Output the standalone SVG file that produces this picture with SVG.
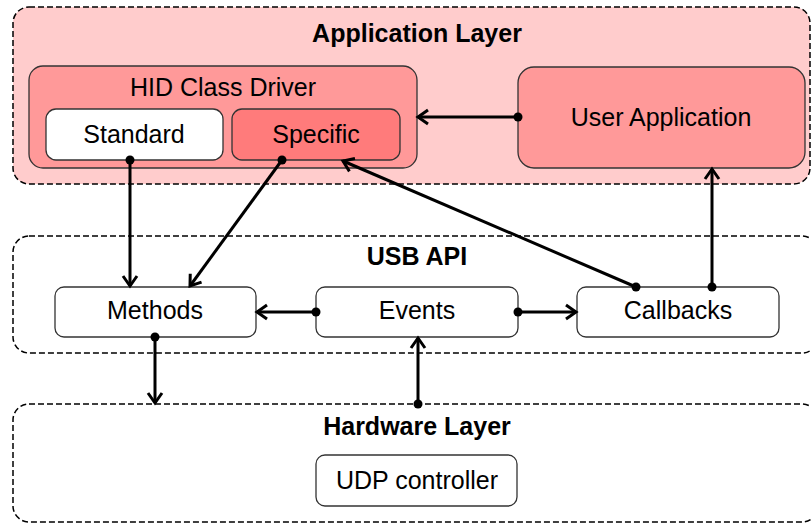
<svg xmlns="http://www.w3.org/2000/svg" width="811" height="523" viewBox="0 0 811 523">
<style>
.layer{stroke:#000;stroke-width:1.5;stroke-dasharray:6,3}
.node{stroke:#333;stroke-width:1.3}
.t{font-family:"Liberation Sans",Arial,sans-serif;font-size:25px;fill:#000;text-anchor:middle}
.b{font-weight:bold}
.c{fill:none;stroke:#000;stroke-width:3}
</style>
<defs>
<marker id="arr" markerUnits="userSpaceOnUse" markerWidth="16" markerHeight="18" refX="13" refY="8" orient="auto" viewBox="0 0 16 16">
<path d="M3,1 L13,8 L3,15" fill="none" stroke="#000" stroke-width="3"/>
</marker>
<marker id="dot" markerUnits="userSpaceOnUse" markerWidth="10" markerHeight="10" refX="5" refY="5" viewBox="0 0 10 10">
<circle cx="5" cy="5" r="4.5" fill="#000"/>
</marker>
</defs>
<rect width="811" height="523" fill="#fff"/>
<g id="app-layer">
<rect class="layer" x="13" y="7" width="797" height="177" rx="16" fill="#ffcccc"/>
<text class="t b" x="417" y="42">Application Layer</text>
</g>
<g id="usb-api">
<rect class="layer" x="13" y="236" width="805" height="117" rx="16" fill="#fff"/>
<text class="t b" x="417" y="265">USB API</text>
</g>
<g id="hw-layer">
<rect class="layer" x="13" y="404" width="805" height="118" rx="16" fill="#fff"/>
<text class="t b" x="417" y="435">Hardware Layer</text>
</g>
<g id="hid">
<rect class="node" x="29" y="66" width="388" height="102" rx="14" fill="#ff9999"/>
<text class="t" x="223" y="96">HID Class Driver</text>
</g>
<g id="standard">
<rect class="node" x="46" y="109" width="177" height="51" rx="10" fill="#fff"/>
<text class="t" x="134" y="143">Standard</text>
</g>
<g id="specific">
<rect class="node" x="232" y="109" width="168" height="51" rx="10" fill="#ff7b7b"/>
<text class="t" x="316" y="143">Specific</text>
</g>
<g id="userapp">
<rect class="node" x="518" y="67" width="287" height="101" rx="16" fill="#ff9999"/>
<text class="t" x="661" y="126">User Application</text>
</g>
<g id="methods">
<rect class="node" x="55" y="287" width="201" height="50" rx="9" fill="#fff"/>
<text class="t" x="155" y="319">Methods</text>
</g>
<g id="events">
<rect class="node" x="316" y="287" width="202" height="50" rx="9" fill="#fff"/>
<text class="t" x="417" y="319">Events</text>
</g>
<g id="callbacks">
<rect class="node" x="577" y="287" width="202" height="50" rx="9" fill="#fff"/>
<text class="t" x="678" y="319">Callbacks</text>
</g>
<g id="udp">
<rect class="node" x="316" y="455" width="201" height="51" rx="9" fill="#fff"/>
<text class="t" x="417" y="489">UDP controller</text>
</g>
<g id="connectors">
<path class="c" d="M518,117 L418,117" marker-start="url(#dot)" marker-end="url(#arr)"/>
<path class="c" d="M130,160 L130,286" marker-start="url(#dot)" marker-end="url(#arr)"/>
<path class="c" d="M282,160 L190,286" marker-start="url(#dot)" marker-end="url(#arr)"/>
<path class="c" d="M636,287 L343,161" marker-start="url(#dot)" marker-end="url(#arr)"/>
<path class="c" d="M712,287 L712,169" marker-start="url(#dot)" marker-end="url(#arr)"/>
<path class="c" d="M316,312 L257,312" marker-start="url(#dot)" marker-end="url(#arr)"/>
<path class="c" d="M518,312 L576,312" marker-start="url(#dot)" marker-end="url(#arr)"/>
<path class="c" d="M155,337 L155,403" marker-start="url(#dot)" marker-end="url(#arr)"/>
<path class="c" d="M418,404 L418,338" marker-start="url(#dot)" marker-end="url(#arr)"/>
</g>
</svg>
